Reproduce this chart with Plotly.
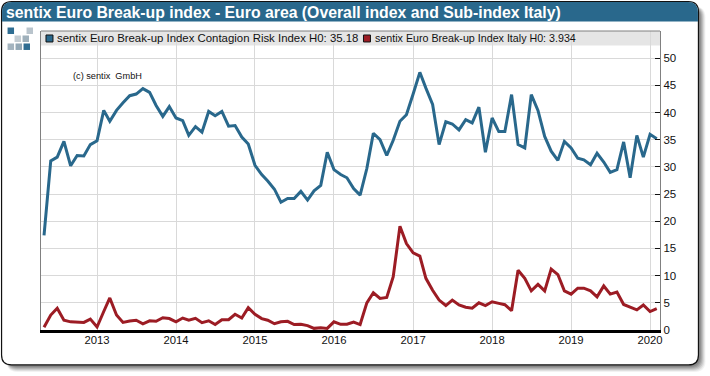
import pandas as pd
import plotly.graph_objects as go

W, H = 710, 376
PL, PR, PT, PB = 40.5, 660.5, 30.5, 330.0

months = pd.date_range("2012-05-01", periods=94, freq="MS")
contagion = [17.4, 31.1, 31.8, 34.7, 30.2, 32.1, 32.0, 34.1,
    34.8, 40.4, 38.4, 40.4, 41.8, 43.1, 43.4, 44.4, 43.7, 41.3, 39.3, 41.1,
    39.0, 38.5, 35.8, 37.4, 36.4, 40.2, 39.4, 40.2, 37.5, 37.6, 35.5, 34.2,
    30.3, 28.6, 27.4, 25.9, 23.5, 24.2, 24.2, 25.5, 23.9, 25.6, 26.6, 32.7,
    29.5, 28.6, 28.0, 26.0, 24.8, 29.7, 36.2, 35.0, 32.1, 34.9, 38.4, 39.6,
    43.4, 47.4, 44.5, 41.5, 34.1, 38.3, 37.9, 36.8, 38.7, 38.1, 41.0, 32.7,
    39.0, 36.5, 36.5, 43.3, 34.1, 33.5, 43.3, 40.4, 35.6, 32.9, 31.2, 34.7,
    33.5, 31.6, 31.3, 30.4, 32.5, 30.9, 29.0, 29.5, 34.6, 28.0, 35.8, 31.8,
    36.0, 35.18]
italy = [0.5, 2.75, 4.0, 1.8, 1.5, 1.5, 1.4, 2.0,
    0.55, 3.4, 5.9, 2.75, 1.4, 1.65, 1.8, 1.15, 1.7, 1.6, 2.25, 2.1,
    1.5, 2.2, 1.8, 2.15, 1.35, 1.7, 1.0, 1.9, 1.9, 2.9, 2.2, 4.1,
    2.9, 2.1, 1.8, 1.15, 1.5, 1.6, 1.0, 1.05, 0.8, 0.3, 0.4, 0.3,
    1.5, 1.05, 1.05, 1.45, 1.0, 5.0, 6.85, 5.8, 6.0, 9.8, 19.1, 15.9,
    14.2, 13.6, 9.5, 7.3, 5.5, 4.5, 5.5, 4.6, 4.2, 4.0, 5.0, 4.5,
    5.2, 4.9, 4.65, 3.55, 11.0, 9.5, 7.2, 8.4, 7.2, 11.2, 10.2, 7.2,
    6.6, 7.7, 7.7, 7.2, 6.1, 8.1, 6.6, 7.0, 4.7, 4.2, 3.7, 4.6,
    3.4, 3.934]
year_ticks = ["2013-01-01", "2014-01-01", "2015-01-01", "2016-01-01",
              "2017-01-01", "2018-01-01", "2019-01-01", "2020-01-01"]
year_labels = ["2013", "2014", "2015", "2016", "2017", "2018", "2019", "2020"]
value_ticks = [0, 5, 10, 15, 20, 25, 30, 35, 40, 45, 50]
title = "sentix Euro Break-up index - Euro area (Overall index and Sub-index Italy)"
legend_a = "sentix Euro Break-up Index Contagion Risk Index H0: 35.18"
legend_b = "sentix Euro Break-up Index Italy H0: 3.934"
credit = "(c) sentix  GmbH"
BLUE, RED = "#29688c", "#9c1c24"
FONT = "Liberation Sans, Arial, sans-serif"


def px(x):
    return (x - PL) / (PR - PL)


def py(y):
    return (PB - y) / (PB - PT)


def rounded(x0, y0, x1, y1, r):
    return (f"M {px(x0+r)} {py(y0)} L {px(x1-r)} {py(y0)} "
            f"Q {px(x1)} {py(y0)} {px(x1)} {py(y0+r)} L {px(x1)} {py(y1-r)} "
            f"Q {px(x1)} {py(y1)} {px(x1-r)} {py(y1)} L {px(x0+r)} {py(y1)} "
            f"Q {px(x0)} {py(y1)} {px(x0)} {py(y1-r)} L {px(x0)} {py(y0+r)} "
            f"Q {px(x0)} {py(y0)} {px(x0+r)} {py(y0)} Z")


def title_band(x0, y0, x1, y1, r):
    return (f"M {px(x0)} {py(y1)} L {px(x0)} {py(y0+r)} "
            f"Q {px(x0)} {py(y0)} {px(x0+r)} {py(y0)} L {px(x1-r)} {py(y0)} "
            f"Q {px(x1)} {py(y0)} {px(x1)} {py(y0+r)} L {px(x1)} {py(y1)} Z")


def rect(x0, y0, x1, y1, color, layer="below"):
    return dict(type="rect", xref="paper", yref="paper", x0=px(x0), x1=px(x1),
                y0=py(y1), y1=py(y0), fillcolor=color, line_width=0, layer=layer)


shapes = []
for off, col in [(7, "rgba(90,90,90,0.08)"), (6, "rgba(90,90,90,0.12)"), (5, "rgba(90,90,90,0.16)"),
                 (4, "rgba(90,90,90,0.20)"), (3, "rgba(90,90,90,0.25)"), (2, "rgba(90,90,90,0.30)")]:
    shapes.append(dict(type="path", xref="paper", yref="paper", layer="below",
                       path=rounded(6, 6, 699 + off, 365 + off, 11), fillcolor=col, line_width=0))
shapes.append(dict(type="path", xref="paper", yref="paper", layer="below",
                   path=rounded(1, 1, 699, 365, 10), fillcolor="white",
                   line=dict(color="#111111", width=1.2)))
shapes.append(dict(type="path", xref="paper", yref="paper", layer="below",
                   path=title_band(1.5, 1.5, 698.5, 21, 10), fillcolor=BLUE, line_width=0))
shapes.append(rect(PL, PT, PR, 45, "#e5e5e5"))
shapes.append(dict(type="line", xref="paper", yref="paper", x0=0, x1=1, y0=1, y1=1,
                   line=dict(color="#808080", width=1), layer="above"))
for x, y, c in [(7, 27, "#2f6d92"), (26, 27, "#b9c4cc"), (14, 35, "#c3ccd2"), (22, 35, "#9fb0bb"),
                (7, 43, "#a4b4bf"), (15, 43, "#93a8b6"), (23, 43, "#2f6d92")]:
    shapes.append(rect(x, y, x + 6.5, y + 6.5, c))
for x, c in [(45.5, BLUE), (363.5, RED)]:
    shapes.append(dict(type="rect", xref="paper", yref="paper", x0=px(x), x1=px(x + 7),
                       y0=py(41.5), y1=py(34.5), fillcolor=c,
                       line=dict(color="#111111", width=1), layer="above"))


def note(text, x, y, size, color="#111111", bold=False):
    return dict(text=f"<b>{text}</b>" if bold else text, xref="paper", yref="paper",
                x=px(x), y=py(y), xanchor="left", yanchor="middle", showarrow=False,
                font=dict(family=FONT, size=size, color=color))


annotations = [
    note(title, 3, 11.5, 15.8, "white", True),
    note(legend_a, 55, 37.5, 11.4),
    note(legend_b, 373, 37.5, 10.7),
    note(credit, 71, 75.5, 9.2),
]

fig = go.Figure()
fig.add_trace(go.Scatter(x=months, y=contagion, mode="lines", name="Contagion Risk Index",
                         line=dict(color=BLUE, width=3), showlegend=False))
fig.add_trace(go.Scatter(x=months, y=italy, mode="lines", name="Italy",
                         line=dict(color=RED, width=3), showlegend=False))
fig.update_layout(
    width=W, height=H, autosize=False,
    margin=dict(l=PL, r=W - PR, t=PT, b=H - PB, pad=0),
    paper_bgcolor="rgba(0,0,0,0)", plot_bgcolor="rgba(0,0,0,0)",
    shapes=shapes, annotations=annotations,
    font=dict(family=FONT, size=11.5, color="#111111"),
)
fig.update_xaxes(range=["2012-04-17", "2020-02-16"], tickmode="array", tickvals=year_ticks,
                 ticktext=year_labels, showgrid=True, gridcolor="#d9d9d9", gridwidth=1.3,
                 ticks="", showline=True, linecolor="#000000", linewidth=2.5,
                 tickfont=dict(size=11.3), zeroline=False, ticklabelstandoff=-2)
fig.update_yaxes(range=[0, 55], side="right", tickmode="array", tickvals=value_ticks,
                 showgrid=True, gridcolor="#d9d9d9", gridwidth=1.3, ticks="inside", ticklen=5,
                 tickcolor="#111111", showline=True, linecolor="#808080", linewidth=1.2,
                 mirror=True, tickfont=dict(size=11.5), zeroline=False)
fig.write_html("out.html", config={"displayModeBar": False},
               post_script="document.body.style.margin='0';document.body.style.overflow='hidden';")
